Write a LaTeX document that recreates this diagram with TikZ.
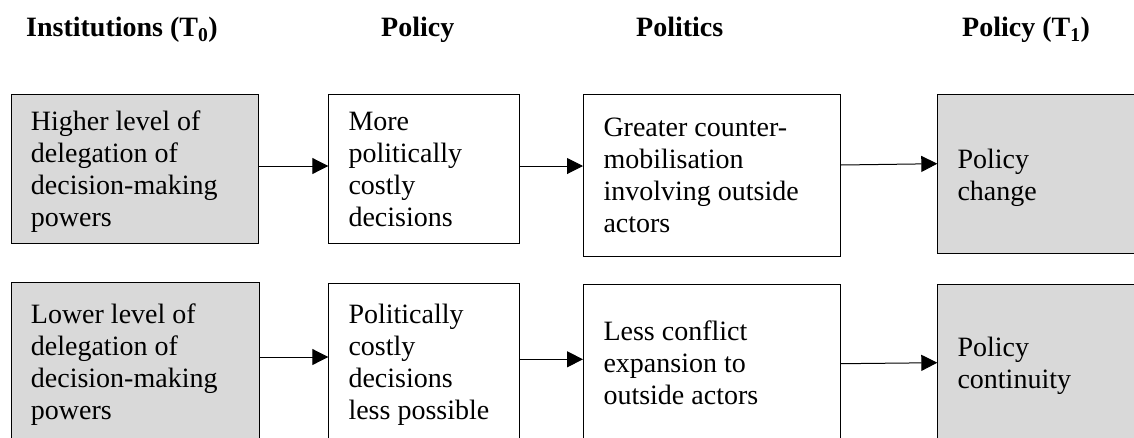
\documentclass[tikz,border=0pt]{standalone}
\usepackage{fontspec}
\setmainfont{Liberation Serif}
\usetikzlibrary{arrows.meta}
\definecolor{boxgray}{HTML}{D9D9D9}
\begin{document}
\begin{tikzpicture}[x=1pt,y=-1pt,
  box/.style={draw=black, line width=1pt, inner sep=0pt, anchor=north west},
  shaded/.style={box, fill=boxgray},
  txt/.style={anchor=north west, inner sep=0pt, align=left, font=\fontsize{28}{32}\selectfont},
  head/.style={anchor=base west, inner sep=0pt, font=\fontsize{28}{32}\selectfont\bfseries},
  arr/.style={line width=1pt, -{Triangle[length=16pt,width=16pt]}}]
\useasboundingbox (0,0) rectangle (1134,437);
\clip (0,0) rectangle (1134,437);
% headers
\node[head] (h1) at (26,36.7) {Institutions (T\textsubscript{0})};
\node[head] (h2) at (381,36.7) {Policy};
\node[head] (h3) at (636,36.7) {Politics};
\node[head] (h4) at (962,36.7) {Policy (T\textsubscript{1})};
% boxes row 1
\node[shaded, minimum width=247, minimum height=148.7] (a1) at (10.7,94) {};
\node[box, minimum width=190.7, minimum height=149] (b1) at (328.3,94) {};
\node[box, minimum width=256.7, minimum height=162] (c1) at (583,94) {};
\node[shaded, minimum width=220, minimum height=159] (d1) at (937.3,94) {};
% boxes row 2
\node[shaded, minimum width=248.6, minimum height=180] (a2) at (10.7,282) {};
\node[box, minimum width=190.7, minimum height=180] (b2) at (328.3,283) {};
\node[box, minimum width=256.7, minimum height=180] (c2) at (583,284.3) {};
\node[shaded, minimum width=220, minimum height=180] (d2) at (937.3,284.3) {};
% texts
\node[txt] (a1t) at (30.7,108.3) {\strut Higher level of\\delegation of\\decision-making\\powers};
\node[txt] (b1t) at (348.3,108.3) {\strut More\\politically\\costly\\decisions};
\node[txt] (c1t) at (603.3,114.3) {\strut Greater counter-\\mobilisation\\involving outside\\actors};
\node[txt] (d1t) at (957.3,145.9) {\strut Policy\\change};
\node[txt] (a2t) at (30.7,301.3) {\strut Lower level of\\delegation of\\decision-making\\powers};
\node[txt] (b2t) at (348.3,301.3) {\strut Politically\\costly\\decisions\\less possible};
\node[txt] (c2t) at (603.3,317.9) {\strut Less conflict\\expansion to\\outside actors};
\node[txt] (d2t) at (957.3,333.6) {\strut Policy\\continuity};
% arrows
\draw[arr] (a1.east |- 0,166) -- (b1.west |- 0,166);
\draw[arr] (b1.east |- 0,166) -- (c1.west |- 0,166);
\draw[arr] (c1.east |- 0,165) -- (d1.west |- 0,163.7);
\draw[arr] (a2.east |- 0,357) -- (b2.west |- 0,357);
\draw[arr] (b2.east |- 0,359.3) -- (c2.west |- 0,359.3);
\draw[arr] (c2.east |- 0,363.7) -- (d2.west |- 0,362.7);
\end{tikzpicture}
\end{document}
